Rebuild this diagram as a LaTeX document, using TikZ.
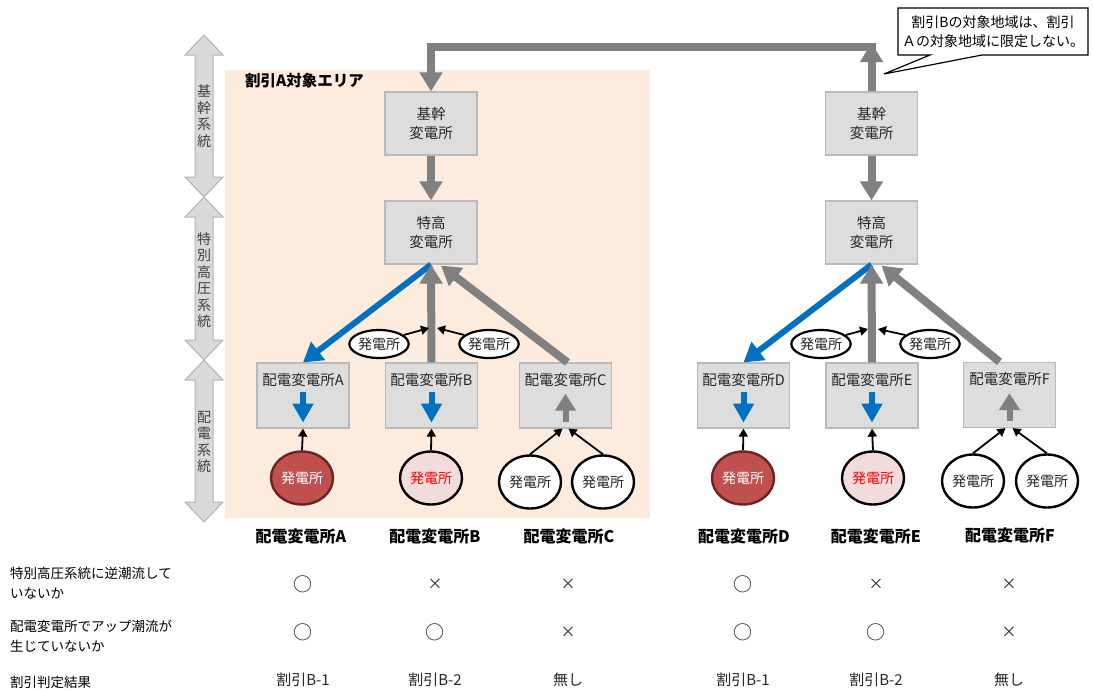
\documentclass[tikz,border=0pt]{standalone}
\usepackage{fontspec}
\setmainfont{Noto Sans CJK JP}
\usetikzlibrary{arrows.meta,shapes.geometric,calc}
\definecolor{boxfill}{RGB}{221,221,221}
\definecolor{boxedge}{RGB}{185,185,185}
\definecolor{flowgray}{RGB}{128,128,128}
\definecolor{flowblue}{RGB}{0,112,192}
\definecolor{areafill}{RGB}{253,236,222}
\definecolor{genred}{RGB}{192,80,77}
\definecolor{genredge}{RGB}{110,35,33}
\definecolor{genpink}{RGB}{242,220,219}
\definecolor{txt}{RGB}{38,38,38}
\definecolor{sysfill}{RGB}{217,217,217}
\definecolor{sysedge}{RGB}{180,180,180}
\definecolor{systxt}{RGB}{64,64,64}
\begin{document}
\begin{tikzpicture}[x=1pt,y=-1pt,
  box/.style={draw=boxedge, fill=boxfill, line width=1.2pt, inner sep=0pt, minimum width=92pt, minimum height=63pt, align=center, font=\fontsize{14.5}{19}\selectfont, text=txt},
  dbox/.style={box, minimum height=65pt},
  dlabel/.style={font=\fontsize{14.5}{17}\selectfont, text=txt, inner sep=0pt},
  gen/.style={ellipse, draw=black, line width=2.4pt, minimum width=62pt, minimum height=53pt, inner sep=0pt, font=\fontsize{14}{17}\selectfont, fill=white, text=txt},
  sgen/.style={ellipse, draw=black, line width=2.2pt, minimum width=58pt, minimum height=28pt, inner sep=0pt, font=\fontsize{14}{17}\selectfont, fill=white, text=txt},
  garrow/.style={draw=flowgray, line width=8pt, -{Triangle[width=22pt,length=19pt]}},
  barrow/.style={draw=flowblue, line width=6pt, -{Triangle[width=22pt,length=19pt]}},
  karrow/.style={draw=black, line width=1.8pt, -{Triangle[width=9pt,length=8pt]}},
  ibarrow/.style={draw=flowblue, line width=6pt, -{Triangle[width=20pt,length=19pt]}},
  igarrow/.style={draw=flowgray, line width=6pt, -{Triangle[width=20pt,length=17pt]}},
  sysarrow/.style={fill=sysfill, draw=sysedge, line width=1pt},
  systext/.style={font=\fontsize{14}{16.5}\selectfont, text=systxt, align=center, inner sep=0pt},
  head/.style={font=\bfseries\fontsize{16}{19}\selectfont, text=black, inner sep=0pt},
  rowlab/.style={font=\fontsize{13.5}{20}\selectfont, text=black, inner sep=0pt, anchor=west, align=left},
  cell/.style={font=\fontsize{15}{18}\selectfont, text=txt, inner sep=0pt},
  okmark/.style={cell, font=\fontsize{19}{20}\selectfont},
  note/.style={font=\fontsize{14}{19}\selectfont, text=black, inner sep=0pt, align=center}]
\fill[white] (0,0) rectangle (1093,691);
\useasboundingbox (0,0) rectangle (1093,691);

% target area
\fill[areafill] (225,70) rectangle (650,518);
\node[font=\bfseries\fontsize{15.5}{18}\selectfont, anchor=west, inner sep=0pt] (areatitle) at (245,81) {割引A対象エリア};

% system level double arrows
\foreach \ya/\yb in {35/197, 197/360, 360/522}{
  \path[sysarrow] (204,\ya) -- (223,\ya+20) -- (213,\ya+20) -- (213,\yb-20) -- (223,\yb-20) -- (204,\yb) -- (185,\yb-20) -- (195,\yb-20) -- (195,\ya+20) -- (185,\ya+20) -- cycle;
}
\node[systext] (sysK) at (204,116) {基\\幹\\系\\統};
\node[systext] (sysT) at (204,280) {特\\別\\高\\圧\\系\\統};
\node[systext] (sysH) at (204,442) {配\\電\\系\\統};

% substations
\node[box] (K1) at (431,123.5) {基幹\\変電所};
\node[box] (K2) at (871.5,123.5) {基幹\\変電所};
\node[box] (T1) at (431,232.5) {特高\\変電所};
\node[box] (T2) at (871.5,232.5) {特高\\変電所};
\node[dbox] (HA) at (303,395.5) {};
\node[dbox] (HB) at (431.5,395.5) {};
\node[dbox] (HC) at (565.5,395.5) {};
\node[dbox] (HD) at (743.5,395.5) {};
\node[dbox] (HE) at (872,395.5) {};
\node[dbox] (HF) at (1009.5,395) {};
\node[dlabel] (LA) at (303,380) {配電変電所A};
\node[dlabel] (LB) at (431.5,380) {配電変電所B};
\node[dlabel] (LC) at (565.5,380) {配電変電所C};
\node[dlabel] (LD) at (743.5,380) {配電変電所D};
\node[dlabel] (LE) at (872,380) {配電変電所E};
\node[dlabel] (LF) at (1009.5,379) {配電変電所F};

% inner flow arrows
\foreach \n in {HA,HB,HD,HE}{
  \draw[ibarrow] ($(\n.south)+(0,-37)$) -- ($(\n.south)+(0,-6)$);
}
\foreach \n in {HC,HF}{
  \draw[igarrow] ($(\n.south)+(0,-7)$) -- ($(\n.south)+(0,-35)$);
}

% generators
\node[gen, fill=genred, draw=genredge, text=white] (GA) at (302,478) {発電所};
\node[gen, fill=genpink, text=red] (GB) at (431,478) {発電所};
\node[gen] (GC1) at (530,482) {発電所};
\node[gen] (GC2) at (603,482) {発電所};
\node[gen, fill=genred, draw=genredge, text=white] (GD) at (743,478) {発電所};
\node[gen, fill=genpink, text=red] (GE) at (873,478) {発電所};
\node[gen] (GF1) at (973,481) {発電所};
\node[gen] (GF2) at (1047,481) {発電所};

\node[sgen] (S1) at (379,344) {発電所};
\node[sgen] (S2) at (489,344) {発電所};
\node[sgen] (S3) at (821,344) {発電所};
\node[sgen] (S4) at (930,344) {発電所};

% top connection
\coordinate (topR) at (871.5,43);
\coordinate (topL) at (431,47);
\draw[draw=flowgray, line width=8pt] ([xshift=4pt]topR |- topL) -- (topL) -- ++(0,10);
\draw[garrow] (topL) -- (K1.north);
\draw[garrow] (K2.north) -- (topR);

\draw[garrow] (K1.south) -- (T1.north);
\draw[garrow] (K2.south) -- (T2.north);

% flows left
\draw[barrow] (T1.south) -- (HA.north);
\draw[garrow] (HB.north) -- (T1.south);
\draw[garrow] ($(HC.north)+(2,0)$) -- ($(T1.south)+(10,1)$);
% flows right
\draw[barrow] (T2.south) -- (HD.north);
\draw[garrow] (HE.north) -- (T2.south);
\draw[garrow] ($(HF.north)+(-10,0)$) -- ($(T2.south)+(10,1)$);

% small generator arrows
\coordinate (p1) at (429,328);
\coordinate (p2) at (437,328);
\coordinate (p3) at (868,329);
\coordinate (p4) at (878,329);
\draw[karrow] (S1.20) -- (p1);
\draw[karrow] (S2.160) -- (p2);
\draw[karrow] (S3.20) -- (p3);
\draw[karrow] (S4.160) -- (p4);

% generator to distribution substation arrows
\draw[karrow] (GA.north) -- (HA.south);
\draw[karrow] (GB.north) -- (HB.south);
\draw[karrow] (GC1.north) -- ($(HC.south)+(-3,0)$);
\draw[karrow] (GC2.north) -- ($(HC.south)+(3,0)$);
\draw[karrow] (GD.north) -- (HD.south);
\draw[karrow] (GE.north) -- (HE.south);
\draw[karrow] (GF1.north) -- ($(HF.south)+(-4,0)$);
\draw[karrow] (GF2.north) -- ($(HF.south)+(3,0)$);

% callout
\draw[fill=white, line width=1.2pt] (898,8) -- (1088,8) -- (1088,55) -- (982,55) -- (884,74) -- (930,55) -- (898,55) -- cycle;
\node[note] (callout) at (993,32) {割引Bの対象地域は、割引\\Ａの対象地域に限定しない。};

% table
\node[head] (hA) at (301,536) {配電変電所A};
\node[head] (hB) at (435,536) {配電変電所B};
\node[head] (hC) at (569,536) {配電変電所C};
\node[head] (hD) at (744,536) {配電変電所D};
\node[head] (hE) at (876,536) {配電変電所E};
\node[head] (hF) at (1010,535) {配電変電所F};

\node[rowlab] (r1) at (10,583) {特別高圧系統に逆潮流して\\いないか};
\node[rowlab] (r2) at (10,636) {配電変電所でアップ潮流が\\生じていないか};
\node[rowlab] (r3) at (10,682) {割引判定結果};

\node[okmark] (a1) at (303,584) {○};
\node[cell] (b1) at (435,584) {×};
\node[cell] (c1) at (568,584) {×};
\node[okmark] (d1) at (743,584) {○};
\node[cell] (e1) at (876,584) {×};
\node[cell] (f1) at (1009,584) {×};
\node[okmark] (a2) at (303,632) {○};
\node[okmark] (b2) at (435,632) {○};
\node[cell] (c2) at (568,632) {×};
\node[okmark] (d2) at (743,632) {○};
\node[okmark] (e2) at (876,632) {○};
\node[cell] (f2) at (1009,632) {×};
\node[cell] (a3) at (303,680) {割引B-1};
\node[cell] (b3) at (435,680) {割引B-2};
\node[cell] (c3) at (568,680) {無し};
\node[cell] (d3) at (743,680) {割引B-1};
\node[cell] (e3) at (876,680) {割引B-2};
\node[cell] (f3) at (1009,680) {無し};
\end{tikzpicture}
\end{document}
